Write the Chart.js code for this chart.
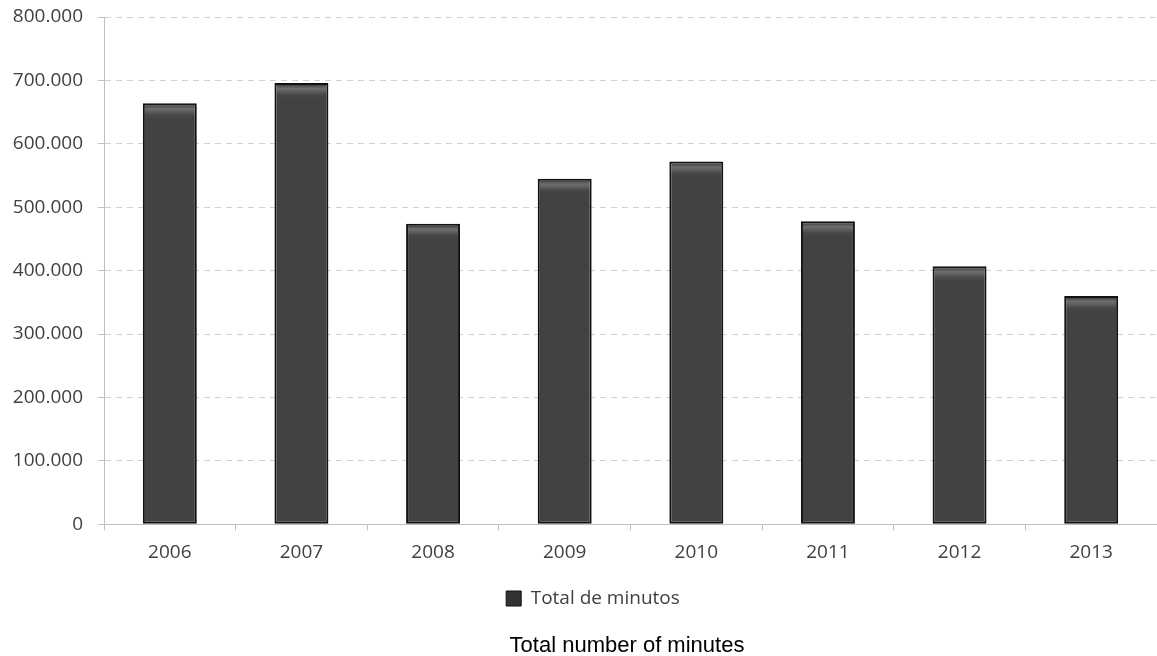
<!DOCTYPE html>
<html>
<head>
<meta charset="utf-8">
<script src="https://cdn.jsdelivr.net/npm/chart.js@4"></script>
<style>
  html, body { margin: 0; padding: 0; background: #ffffff; }
  #wrap { width: 1157px; height: 656px; position: relative; }
</style>
</head>
<body>
<div id="wrap"><canvas id="c" width="1157" height="656"></canvas></div>
<script>
const categories = ['2006', '2007', '2008', '2009', '2010', '2011', '2012', '2013'];
const totalMinutes = [664000, 696000, 474000, 545000, 572000, 478000, 407000, 360000];
const seriesLabel = 'Total de minutos';
const captionText = 'Total number of minutes';
const yTicks = [0, 100000, 200000, 300000, 400000, 500000, 600000, 700000, 800000];

function fmt(v) {
  if (v === 0) return '0';
  const s = String(Math.round(v));
  return s.replace(/\B(?=(\d{3})+(?!\d))/g, '.');
}

const labelFont = { family: "'Open Sans', 'Noto Sans', sans-serif", size: 19 };

function barFill(ctx) {
  const chart = ctx.chart;
  if (ctx.type !== 'data' || !chart.scales || !chart.scales.y) return '#444444';
  const yScale = chart.scales.y;
  const top = yScale.getPixelForValue(ctx.raw);
  if (!isFinite(top)) return '#444444';
  const g = chart.ctx.createLinearGradient(0, top, 0, top + 16);
  g.addColorStop(0, '#2b2b2b');
  g.addColorStop(0.35, '#6e6e6e');
  g.addColorStop(0.75, '#474747');
  g.addColorStop(1, '#424242');
  return g;
}

const captionPlugin = {
  id: 'caption',
  afterLayout(chart) {
    if (chart.legend) {
      chart.legend.left += 14;
      chart.legend.right += 14;
    }
  },
  afterDraw(chart) {
    const c = chart.ctx;
    c.save();
    c.font = "22px 'Liberation Sans', Arial, sans-serif";
    c.fillStyle = '#000000';
    c.textAlign = 'center';
    c.textBaseline = 'alphabetic';
    c.fillText(captionText, 627, 652);
    c.restore();
  }
};

new Chart(document.getElementById('c'), {
  type: 'bar',
  data: {
    labels: categories,
    datasets: [{
      label: seriesLabel,
      data: totalMinutes,
      backgroundColor: barFill,
      borderColor: '#121212',
      borderWidth: 2,
      borderSkipped: false,
      barPercentage: 0.41,
      categoryPercentage: 1.0
    }]
  },
  options: {
    responsive: false,
    animation: false,
    devicePixelRatio: 1,
    layout: { padding: { left: 0, right: -1, top: 17, bottom: 38 } },
    plugins: {
      legend: {
        position: 'bottom',
        labels: {
          boxWidth: 15,
          boxHeight: 15,
          color: '#404040',
          font: labelFont,
          padding: 14,
          generateLabels: (chart) => [{
            text: seriesLabel,
            fillStyle: '#333333',
            strokeStyle: '#111111',
            lineWidth: 1,
            fontColor: '#404040',
            datasetIndex: 0,
            hidden: false
          }]
        }
      },
      title: { display: false },
      tooltip: { enabled: false }
    },
    scales: {
      x: {
        grid: {
          display: true,
          drawOnChartArea: false,
          drawTicks: true,
          tickLength: 6,
          color: '#bfbfbf',
          offset: true
        },
        border: { display: true, color: '#bfbfbf', width: 1 },
        ticks: { color: '#404040', font: labelFont, padding: 11 }
      },
      y: {
        min: 0,
        max: 800000,
        afterBuildTicks: (axis) => { axis.ticks = yTicks.map(v => ({ value: v })); },
        afterFit: (axis) => { axis.width = 104; axis.paddingTop = 0; axis.paddingBottom = 0; },
        grid: {
          color: (ctx) => ctx.tick && ctx.tick.value === 0 ? '#bfbfbf' : '#d0d0d0',
          tickColor: '#bfbfbf',
          tickLength: 6,
          drawTicks: true
        },
        border: { display: true, color: '#bfbfbf', width: 1, dash: [6, 5] },
        ticks: {
          color: '#404040',
          font: labelFont,
          padding: 15,
          callback: (v) => fmt(v)
        }
      }
    }
  },
  plugins: [captionPlugin]
});
</script>
</body>
</html>
